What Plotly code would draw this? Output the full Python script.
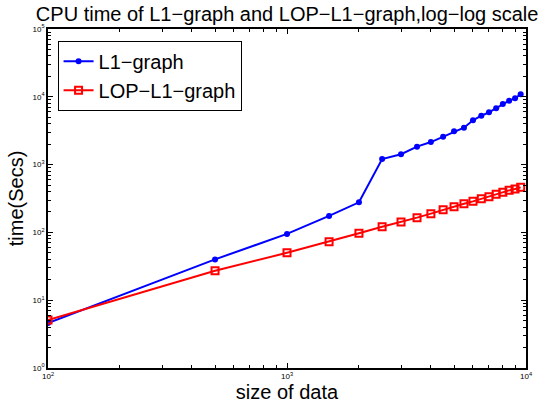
import plotly.graph_objects as go

data_sizes = [100, 500, 1000, 1500, 2000, 2500, 3000, 3500, 4000, 4500,
              5000, 5500, 6000, 6500, 7000, 7500, 8000, 8500, 9000, 9500]
l1_graph_secs = [4.6, 40, 95, 175, 278, 1210, 1420, 1840, 2150, 2580,
                 3100, 3500, 4500, 5260, 5900, 6760, 7830, 8770, 9500, 10900]
lop_l1_graph_secs = [5.1, 27.2, 50, 73, 97, 121, 142, 165, 189, 216,
                     239, 265, 287, 314, 336, 364, 390, 417, 437, 462]

x_major = [100, 1000, 10000]
x_major_text = ["10<sup>2</sup>", "10<sup>3</sup>", "10<sup>4</sup>"]
y_major = [1, 10, 100, 1000, 10000, 100000]
y_major_text = ["10<sup>0</sup>", "10<sup>1</sup>", "10<sup>2</sup>",
                "10<sup>3</sup>", "10<sup>4</sup>", "10<sup>5</sup>"]

x_minor = [m * 10 ** k for k in (2, 3) for m in range(2, 10)]
y_minor = [m * 10 ** k for k in range(0, 5) for m in range(2, 10)]

FONT = "Liberation Sans, Arial, Helvetica, sans-serif"

fig = go.Figure()
fig.add_trace(go.Scatter(
    x=data_sizes, y=l1_graph_secs, name="L1\u2212graph", mode="lines+markers",
    line=dict(color="#0000ff", width=2),
    marker=dict(symbol="circle", size=6, color="#0000ff"),
    legendgroup="a",
))
fig.add_trace(go.Scatter(
    x=data_sizes, y=lop_l1_graph_secs, name="LOP\u2212L1\u2212graph",
    mode="lines+markers",
    line=dict(color="#ff0000", width=2),
    marker=dict(symbol="square-open", size=7, color="#ff0000", line=dict(width=2, color="#ff0000")),
    legendgroup="b",
))

axis_common = dict(
    type="log", showgrid=False, zeroline=False,
    showline=True, linecolor="black", linewidth=1.5, mirror="allticks",
    ticks="inside", ticklen=5, tickcolor="black", tickwidth=1,
    tickfont=dict(family=FONT, size=8, color="black"),
)

fig.update_xaxes(
    **axis_common,
    range=[2, 4],
    tickmode="array", tickvals=x_major, ticktext=x_major_text,
    minor=dict(tickmode="array", tickvals=x_minor, ticks="inside", ticklen=3,
               tickcolor="black", showgrid=False),
    title=dict(text="size of data", font=dict(family=FONT, size=20, color="black"), standoff=0),
)
fig.update_yaxes(
    **axis_common,
    range=[0, 5],
    tickmode="array", tickvals=y_major, ticktext=y_major_text,
    minor=dict(tickmode="array", tickvals=y_minor, ticks="inside", ticklen=3,
               tickcolor="black", showgrid=False),
    title=dict(text="time(Secs)", font=dict(family=FONT, size=20, color="black"), standoff=4),
)

fig.update_layout(
    width=549, height=403,
    margin=dict(l=48, r=23, t=29, b=35, autoexpand=False),
    paper_bgcolor="white", plot_bgcolor="white",
    title=dict(text="CPU time of L1\u2212graph and LOP\u2212L1\u2212graph,log\u2212log scale",
               font=dict(family=FONT, size=20, color="black"),
               x=0.523, xanchor="center", y=0.965, yanchor="middle"),
    legend=dict(x=0.02, y=0.965, xanchor="left", yanchor="top",
                bgcolor="white", bordercolor="black", borderwidth=1,
                font=dict(family=FONT, size=20, color="black"),
                tracegroupgap=0, itemwidth=30,
                entrywidth=200, entrywidthmode="pixels"),
    showlegend=True,
)

fig.write_html("out.html", config={"displayModeBar": False},
               post_script="document.body.style.margin='0px';")
